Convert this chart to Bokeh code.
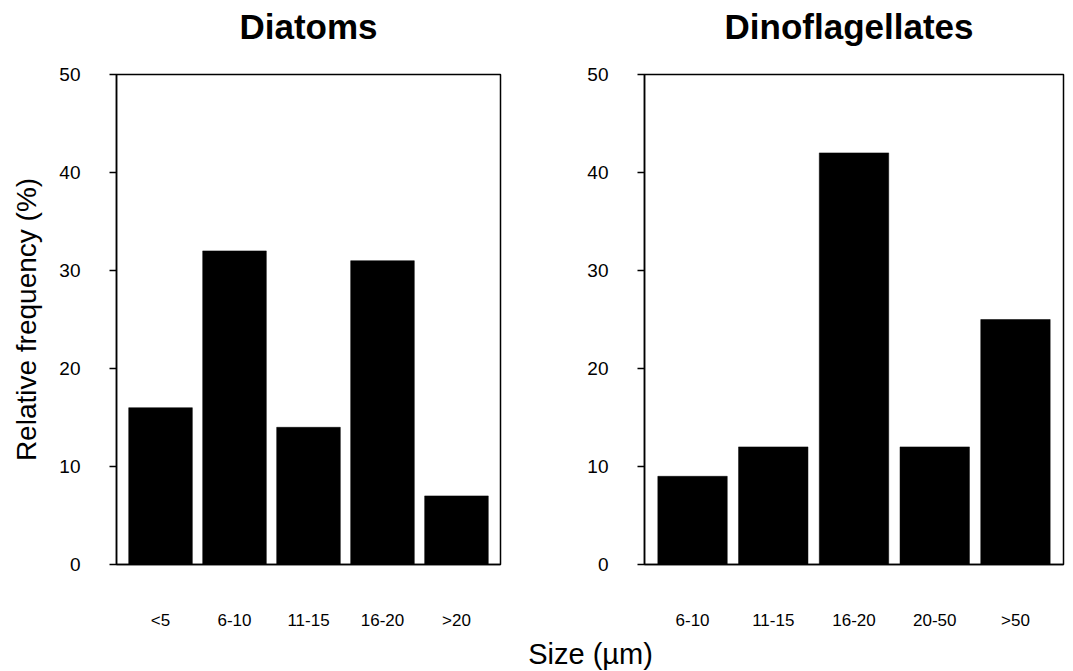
from bokeh.plotting import figure
from bokeh.layouts import row, column
from bokeh.models import FactorRange, Range1d, FixedTicker, Label
from bokeh.embed import file_html
from bokeh.resources import INLINE

# ---- data ----
diatom_sizes = ["<5", "6-10", "11-15", "16-20", ">20"]
diatom_freq = [16, 32, 14, 31, 7]
dino_sizes = ["6-10", "11-15", "16-20", "20-50", ">50"]
dino_freq = [9, 12, 42, 12, 25]
y_ticks = [0, 10, 20, 30, 40, 50]
titles = ["Diatoms", "Dinoflagellates"]

FONT = "Liberation Sans"
W = 1073


def make_panel(cats, vals, width, left, right, ylabel=None):
    p = figure(
        width=width, height=586,
        x_range=FactorRange(*cats, range_padding=0.038, range_padding_units="percent"),
        y_range=Range1d(0, 50),
        output_backend="svg", toolbar_location=None,
        min_border_left=left, min_border_right=right,
        min_border_top=24, min_border_bottom=72,
    )
    p.title.visible = False
    p.vbar(x=cats, top=vals, width=0.86, fill_color="black", line_color="black", line_width=0.5)

    p.outline_line_color = "black"
    p.outline_line_width = 1.5
    p.outline_line_alpha = 1.0
    p.grid.visible = False
    p.background_fill_color = "white"
    p.border_fill_color = "white"

    ya = p.yaxis[0]
    ya.ticker = FixedTicker(ticks=y_ticks)
    ya.minor_tick_line_color = None
    ya.major_tick_out = 7
    ya.major_tick_in = 0
    ya.major_tick_line_width = 1.5
    ya.axis_line_width = 1.5
    ya.axis_line_color = "black"
    ya.major_label_standoff = 29
    ya.major_label_text_font = FONT
    ya.major_label_text_font_size = "19px"
    ya.major_label_text_color = "black"
    if ylabel:
        ya.axis_label = ylabel
        ya.axis_label_text_font = FONT
        ya.axis_label_text_font_size = "28px"
        ya.axis_label_text_font_style = "normal"
        ya.axis_label_text_color = "black"
        ya.axis_label_standoff = 14

    xa = p.xaxis[0]
    xa.major_tick_line_color = None
    xa.minor_tick_line_color = None
    xa.axis_line_width = 1.5
    xa.axis_line_color = "black"
    xa.major_label_standoff = 40
    xa.major_label_text_font = FONT
    xa.major_label_text_font_size = "17px"
    xa.major_label_text_color = "black"
    return p


def text_strip(height):
    s = figure(
        width=W, height=height, output_backend="svg", toolbar_location=None,
        x_axis_type=None, y_axis_type=None,
        x_range=Range1d(0, W), y_range=Range1d(0, height),
        min_border_left=0, min_border_right=0, min_border_top=0, min_border_bottom=0,
    )
    s.title.visible = False
    s.outline_line_color = None
    s.grid.visible = False
    return s


p1 = make_panel(diatom_sizes, diatom_freq, 540, 116, 40, "Relative frequency (%)")
p2 = make_panel(dino_sizes, dino_freq, 533, 104, 10)

# titles strip (centred over each panel frame)
p0 = text_strip(50)
for t, cx in zip(titles, [116 + 384 / 2, 540 + 104 + 419 / 2 - 5]):
    p0.add_layout(Label(x=cx, y=24, text=t, text_align="center", text_baseline="middle",
                        text_font=FONT, text_font_size="35px", text_font_style="bold",
                        text_color="black"))

# shared x-axis title strip
p3 = text_strip(35)
p3.add_layout(Label(x=590, y=18, text="Size (µm)", text_align="center", text_baseline="middle",
                    text_font=FONT, text_font_size="29px", text_color="black"))

layout = column(p0, row(p1, p2), p3)

open("out.html", "w").write(file_html(layout, INLINE))
